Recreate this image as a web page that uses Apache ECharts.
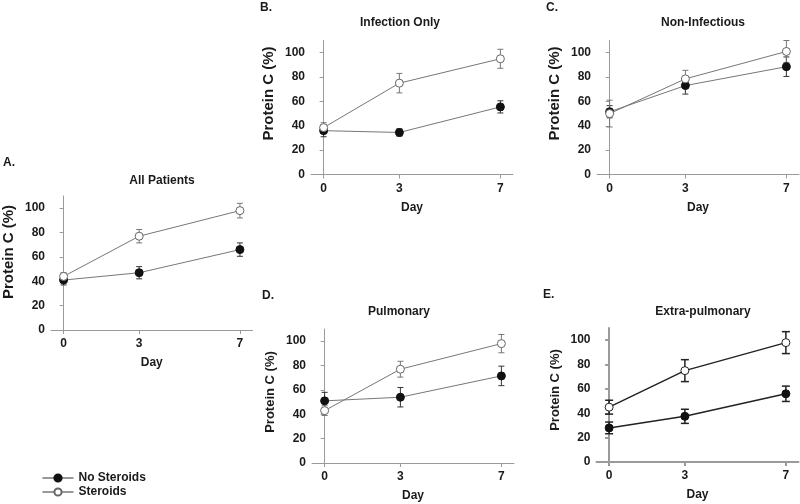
<!DOCTYPE html>
<html>
<head>
<meta charset="utf-8">
<script src="https://cdn.jsdelivr.net/npm/echarts@6/dist/echarts.min.js"></script>
<style>html,body{margin:0;padding:0;background:#fff}#chart{width:800px;height:504px}</style>
</head>
<body>
<div id="chart"></div>
<script>
// ---- data ----
const days = [0, 3, 7];
const yTicks = [0, 20, 40, 60, 80, 100];
const panelTitles = ['All Patients', 'Infection Only', 'Non-Infectious', 'Pulmonary', 'Extra-pulmonary'];
const panelLetters = ['A.', 'B.', 'C.', 'D.', 'E.'];
const seriesNames = ['No Steroids', 'Steroids'];

const allNo = [41, 47, 66];        const allNoErr = [4, 5, 5.5];
const allSt = [44, 77, 98];        const allStErr = [3, 5.5, 6];
const infNo = [36, 34.5, 55.5];    const infNoErr = [5, 3, 5];
const infSt = [38.5, 75, 95];      const infStErr = [4, 8, 7.8];
const nonNo = [51.5, 73, 88.5];    const nonNoErr = [5, 7, 8];
const nonSt = [50, 78.5, 101];     const nonStErr = [11, 7, 9];
const pulNo = [51, 54, 71.5];      const pulNoErr = [7, 8, 8];
const pulSt = [43, 77, 98];        const pulStErr = [4, 6.5, 7.5];
const extNo = [28, 37.5, 56];      const extNoErr = [4.8, 5.8, 6.3];
const extSt = [45, 75, 98];        const extStErr = [5.7, 9, 9];

const panelData = [
  [allNo, allNoErr, allSt, allStErr],
  [infNo, infNoErr, infSt, infStErr],
  [nonNo, nonNoErr, nonSt, nonStErr],
  [pulNo, pulNoErr, pulSt, pulStErr],
  [extNo, extNoErr, extSt, extStErr]
];

// ---- layout / style ----
const layout = [
  {left: 50.5, top: 196, titleX: 162, titleY: 181, letterX: 3, letterY: 163, nameSize: 15, namePad: 22, bold: false},
  {left: 311, top: 40.5, titleX: 400, titleY: 23, letterX: 260, letterY: 8, nameSize: 15, namePad: 28, bold: false},
  {left: 597, top: 40.5, titleX: 703, titleY: 23, letterX: 546, letterY: 8, nameSize: 15, namePad: 28, bold: false},
  {left: 312, top: 329, titleX: 399, titleY: 312, letterX: 262, letterY: 296, nameSize: 13, namePad: 8, bold: false},
  {left: 596.5, top: 328, titleX: 703, titleY: 312, letterX: 543, letterY: 295, nameSize: 13, namePad: 10, bold: true}
];
const FONT = '"Liberation Sans", Arial, sans-serif';
const TXT = '#1a1a1a';

const grids = [], xAxes = [], yAxes = [], series = [], graphics = [];

layout.forEach((L, i) => {
  grids.push({left: L.left, top: L.top, width: 202, height: 134});
  const axisColor = '#9a9a9a';
  const axisW = L.bold ? 2 : 1;
  xAxes.push({
    type: 'value', gridIndex: i, min: -0.5, max: 7.5,
    name: 'Day', nameLocation: 'middle', nameGap: 27,
    nameTextStyle: {fontFamily: FONT, fontWeight: 'bold', fontSize: 12, color: TXT},
    axisLine: {show: true, lineStyle: {color: axisColor, width: axisW}},
    axisTick: {show: true, length: 4, customValues: days, lineStyle: {color: axisColor, width: axisW}},
    axisLabel: {customValues: days, margin: 8, fontFamily: FONT, fontWeight: 'bold', fontSize: 12, color: TXT},
    splitLine: {show: false}
  });
  yAxes.push({
    type: 'value', gridIndex: i, min: 0, max: 110,
    name: 'Protein C (%)', nameLocation: 'middle', nameGap: 35,
    nameTextStyle: {fontFamily: FONT, fontWeight: 'bold', fontSize: L.nameSize, color: TXT, padding: [0, 0, 0, L.namePad]},
    axisLine: {show: true, lineStyle: {color: axisColor, width: axisW}},
    axisTick: {show: true, length: 4, customValues: yTicks, lineStyle: {color: axisColor, width: axisW}},
    axisLabel: {customValues: yTicks, margin: 6, fontFamily: FONT, fontWeight: 'bold', fontSize: 12, color: TXT},
    splitLine: {show: false}
  });

  const [noV, noE, stV, stE] = panelData[i];
  const lineColor = L.bold ? '#222' : '#777';
  const lineW = L.bold ? 1.5 : 1;
  const capW = L.bold ? 4 : 3;

  const errSeries = (vals, errs, color) => ({
    type: 'custom', xAxisIndex: i, yAxisIndex: i, silent: true, z: 1,
    encode: {x: 0, y: 1},
    data: days.map((d, k) => [d, vals[k], errs[k]]),
    renderItem: (params, api) => {
      const x = api.value(0), m = api.value(1), e = api.value(2);
      const t = api.coord([x, m + e]), b = api.coord([x, m - e]);
      const st = {stroke: color, lineWidth: lineW};
      return {type: 'group', children: [
        {type: 'line', shape: {x1: t[0], y1: t[1], x2: b[0], y2: b[1]}, style: st},
        {type: 'line', shape: {x1: t[0] - capW, y1: t[1], x2: t[0] + capW, y2: t[1]}, style: st},
        {type: 'line', shape: {x1: b[0] - capW, y1: b[1], x2: b[0] + capW, y2: b[1]}, style: st}
      ]};
    }
  });

  series.push(errSeries(noV, noE, L.bold ? '#222' : '#333'));
  series.push(errSeries(stV, stE, L.bold ? '#222' : '#777'));
  series.push({
    name: seriesNames[0], type: 'line', xAxisIndex: i, yAxisIndex: i, z: 3,
    data: days.map((d, k) => [d, noV[k]]),
    symbol: 'circle', symbolSize: 8,
    lineStyle: {color: lineColor, width: lineW},
    itemStyle: {color: '#111', borderColor: '#111', borderWidth: 1},
    emphasis: {disabled: true}, animation: false
  });
  series.push({
    name: seriesNames[1], type: 'line', xAxisIndex: i, yAxisIndex: i, z: 4,
    data: days.map((d, k) => [d, stV[k]]),
    symbol: 'circle', symbolSize: 8,
    lineStyle: {color: lineColor, width: lineW},
    itemStyle: {color: '#fff', borderColor: L.bold ? '#222' : '#666', borderWidth: 1},
    emphasis: {disabled: true}, animation: false
  });

  graphics.push({type: 'text', x: L.titleX, y: L.titleY, style: {text: panelTitles[i], fontFamily: FONT, fontWeight: 'bold', fontSize: 12, fill: TXT, textAlign: 'center', textVerticalAlign: 'middle'}});
  graphics.push({type: 'text', x: L.letterX, y: L.letterY, style: {text: panelLetters[i], fontFamily: FONT, fontWeight: 'bold', fontSize: 12, fill: TXT, textAlign: 'left', textVerticalAlign: 'middle'}});
});

const legendBase = {
  left: 37, itemWidth: 31, itemHeight: 9,
  lineStyle: {color: '#333', width: 1},
  textStyle: {fontFamily: FONT, fontWeight: 'bold', fontSize: 12, color: TXT},
  selectedMode: false
};

const chart = echarts.init(document.getElementById('chart'), null, {renderer: 'canvas'});
chart.setOption({
  animation: false,
  backgroundColor: '#fff',
  grid: grids, xAxis: xAxes, yAxis: yAxes, series: series,
  graphic: graphics,
  legend: [
    Object.assign({}, legendBase, {data: [seriesNames[0]], top: 467}),
    Object.assign({}, legendBase, {data: [seriesNames[1]], top: 481})
  ]
});
</script>
</body>
</html>
